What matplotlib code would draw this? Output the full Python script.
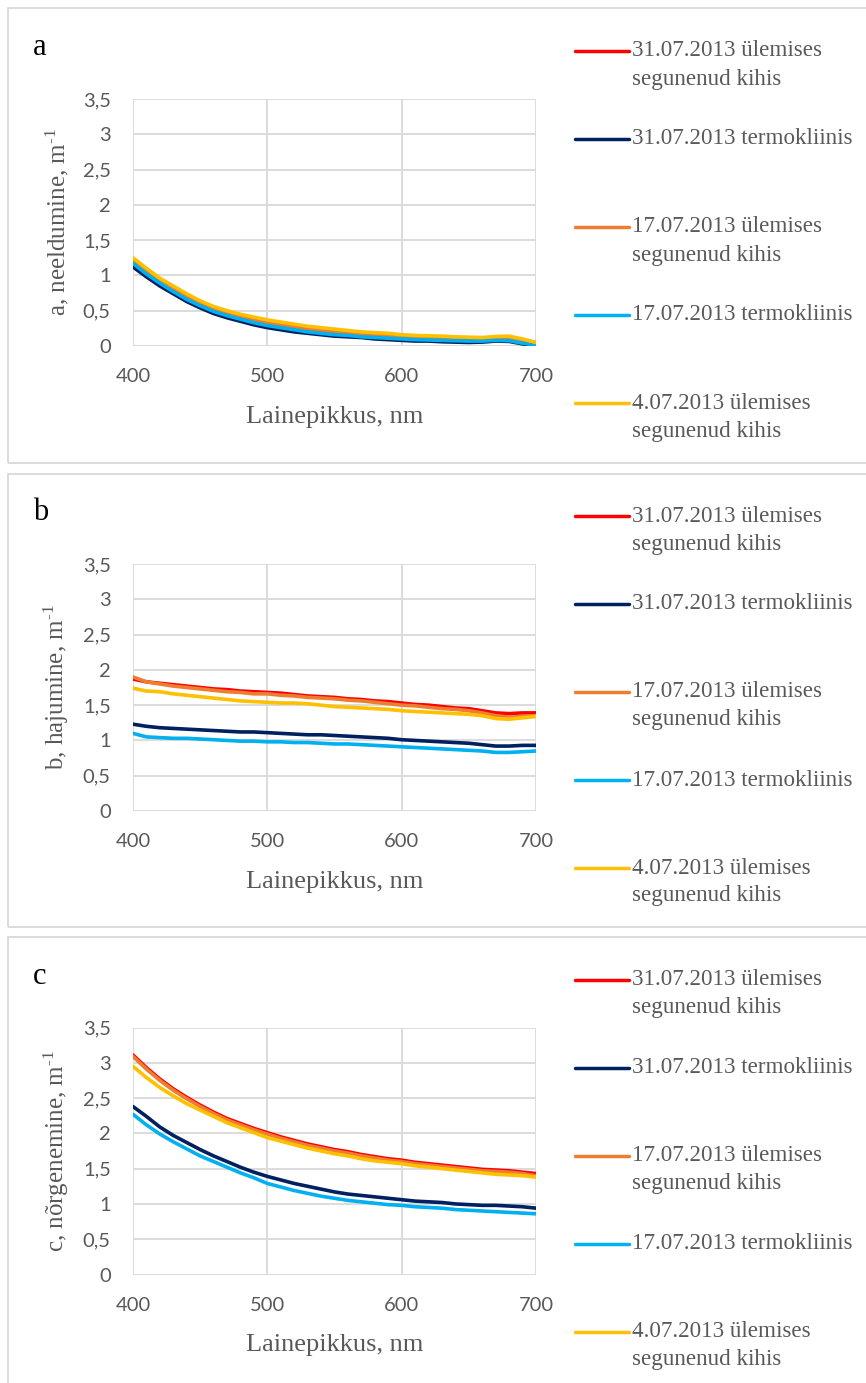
import matplotlib
matplotlib.use("Agg")
import matplotlib.pyplot as plt
from matplotlib.lines import Line2D
from matplotlib.patches import Rectangle

# ---------------- data ----------------
wavelength = [400, 410, 420, 430, 440, 450, 460, 470, 480, 490, 500, 510, 520, 530, 540,
              550, 560, 570, 580, 590, 600, 610, 620, 630, 640, 650, 660, 670, 680, 690, 700]

series_labels = ["31.07.2013 ülemises\nsegunenud kihis",
                 "31.07.2013 termokliinis",
                 "17.07.2013 ülemises\nsegunenud kihis",
                 "17.07.2013 termokliinis",
                 "4.07.2013 ülemises\nsegunenud kihis"]
series_colors = ["#FF0000", "#002060", "#ED7D31", "#00B0F0", "#FFC000"]

# panel a: absorption
a_red = [1.24, 1.09, 0.95, 0.83, 0.72, 0.62, 0.54, 0.48, 0.43, 0.38, 0.34, 0.31, 0.28, 0.25, 0.23,
         0.21, 0.19, 0.17, 0.16, 0.15, 0.14, 0.13, 0.12, 0.11, 0.105, 0.10, 0.10, 0.11, 0.11, 0.07, 0.03]
a_navy = [1.12, 0.98, 0.85, 0.74, 0.63, 0.54, 0.46, 0.40, 0.35, 0.30, 0.26, 0.23, 0.20, 0.18, 0.16,
          0.14, 0.13, 0.12, 0.10, 0.09, 0.08, 0.07, 0.07, 0.06, 0.055, 0.05, 0.055, 0.07, 0.065, 0.03, 0.0]
a_orange = [1.22, 1.07, 0.94, 0.82, 0.71, 0.61, 0.53, 0.47, 0.42, 0.37, 0.33, 0.30, 0.27, 0.24, 0.22,
            0.20, 0.18, 0.16, 0.15, 0.14, 0.13, 0.12, 0.11, 0.10, 0.095, 0.09, 0.09, 0.10, 0.10, 0.06, 0.02]
a_blue = [1.17, 1.02, 0.89, 0.77, 0.66, 0.57, 0.49, 0.43, 0.38, 0.33, 0.29, 0.26, 0.23, 0.20, 0.18,
          0.16, 0.15, 0.13, 0.12, 0.11, 0.10, 0.09, 0.085, 0.08, 0.075, 0.07, 0.07, 0.08, 0.075, 0.04, 0.01]
a_yellow = [1.25, 1.10, 0.96, 0.85, 0.74, 0.64, 0.56, 0.50, 0.45, 0.41, 0.37, 0.34, 0.31, 0.28, 0.26,
            0.24, 0.22, 0.20, 0.19, 0.18, 0.16, 0.15, 0.145, 0.14, 0.13, 0.125, 0.12, 0.135, 0.14, 0.10, 0.05]

# panel b: scattering
b_red = [1.87, 1.83, 1.81, 1.79, 1.77, 1.75, 1.73, 1.72, 1.70, 1.69, 1.68, 1.67, 1.65, 1.63, 1.62,
         1.61, 1.59, 1.58, 1.56, 1.55, 1.53, 1.51, 1.50, 1.48, 1.46, 1.45, 1.42, 1.39, 1.38, 1.39, 1.39]
b_navy = [1.23, 1.20, 1.18, 1.17, 1.16, 1.15, 1.14, 1.13, 1.12, 1.12, 1.11, 1.10, 1.09, 1.08, 1.08,
          1.07, 1.06, 1.05, 1.04, 1.03, 1.01, 1.00, 0.99, 0.98, 0.97, 0.96, 0.94, 0.92, 0.92, 0.93, 0.93]
b_orange = [1.90, 1.83, 1.80, 1.77, 1.75, 1.73, 1.71, 1.69, 1.68, 1.66, 1.66, 1.64, 1.63, 1.61, 1.60,
            1.59, 1.57, 1.56, 1.54, 1.52, 1.50, 1.49, 1.47, 1.45, 1.44, 1.42, 1.39, 1.35, 1.33, 1.34, 1.35]
b_blue = [1.10, 1.05, 1.04, 1.03, 1.03, 1.02, 1.01, 1.00, 0.99, 0.99, 0.98, 0.98, 0.97, 0.97, 0.96,
          0.95, 0.95, 0.94, 0.93, 0.92, 0.91, 0.90, 0.89, 0.88, 0.87, 0.86, 0.85, 0.83, 0.83, 0.84, 0.85]
b_yellow = [1.74, 1.70, 1.69, 1.66, 1.64, 1.62, 1.60, 1.58, 1.56, 1.55, 1.54, 1.53, 1.53, 1.52, 1.50,
            1.48, 1.47, 1.46, 1.45, 1.44, 1.42, 1.41, 1.40, 1.39, 1.38, 1.37, 1.35, 1.31, 1.30, 1.32, 1.34]

# panel c: attenuation
c_red = [3.11, 2.93, 2.77, 2.63, 2.51, 2.40, 2.30, 2.21, 2.14, 2.07, 2.01, 1.95, 1.90, 1.85, 1.81,
         1.77, 1.74, 1.70, 1.67, 1.64, 1.62, 1.59, 1.57, 1.55, 1.53, 1.51, 1.49, 1.48, 1.47, 1.45, 1.43]
c_navy = [2.38, 2.24, 2.09, 1.97, 1.87, 1.77, 1.68, 1.60, 1.52, 1.45, 1.39, 1.34, 1.29, 1.25, 1.21,
          1.17, 1.14, 1.12, 1.10, 1.08, 1.06, 1.04, 1.03, 1.02, 1.00, 0.99, 0.98, 0.98, 0.97, 0.96, 0.94]
c_orange = [3.09, 2.91, 2.75, 2.61, 2.49, 2.38, 2.28, 2.19, 2.12, 2.05, 1.99, 1.93, 1.88, 1.83, 1.79,
            1.75, 1.72, 1.68, 1.65, 1.62, 1.60, 1.57, 1.55, 1.53, 1.51, 1.49, 1.47, 1.46, 1.45, 1.43, 1.40]
c_blue = [2.27, 2.12, 1.99, 1.88, 1.78, 1.68, 1.60, 1.52, 1.44, 1.37, 1.29, 1.24, 1.19, 1.15, 1.11,
          1.08, 1.05, 1.03, 1.01, 0.99, 0.98, 0.96, 0.95, 0.94, 0.92, 0.91, 0.90, 0.89, 0.88, 0.87, 0.86]
c_yellow = [2.95, 2.79, 2.65, 2.53, 2.42, 2.33, 2.24, 2.15, 2.08, 2.01, 1.94, 1.89, 1.84, 1.79, 1.75,
            1.71, 1.68, 1.64, 1.61, 1.59, 1.57, 1.54, 1.52, 1.50, 1.48, 1.46, 1.44, 1.42, 1.41, 1.40, 1.38]

panel_letters = ["a", "b", "c"]
y_labels = [r"a, neeldumine, m$^{\text{-1}}$", r"b, hajumine, m$^{\text{-1}}$",
            r"c, nõrgenemine, m$^{\text{-1}}$"]
x_label = "Lainepikkus, nm"
x_ticks = [400, 500, 600, 700]
y_ticks = [0, 0.5, 1, 1.5, 2, 2.5, 3, 3.5]
y_tick_labels = ["0", "0,5", "1", "1,5", "2", "2,5", "3", "3,5"]

panels = [[a_red, a_navy, a_orange, a_blue, a_yellow],
          [b_red, b_navy, b_orange, b_blue, b_yellow],
          [c_red, c_navy, c_orange, c_blue, c_yellow]]

# ---------------- figure ----------------
plt.rcParams["mathtext.fontset"] = "custom"
plt.rcParams["mathtext.rm"] = "Liberation Serif"
plt.rcParams["mathtext.it"] = "Liberation Serif:italic"
plt.rcParams["mathtext.bf"] = "Liberation Serif:bold"

W, H = 866, 1383
fig = plt.figure(figsize=(W / 100, H / 100), dpi=100)
fig.patch.set_facecolor("white")

SERIF = ["Liberation Serif", "DejaVu Serif"]
SANS = ["Lato", "DejaVu Sans"]
GRAY = "#595959"
GRID = "#D9D9D9"

ax_left, ax_right = 133, 536
ax_tops = [99, 564, 1027.5]
ax_h = 247
box_tops = [8, 473.5, 937.5]
box_bottoms = [462.5, 926.5, 1395]

def fx(px):
    return px / W

def fy(py):
    return 1 - py / H

for i, data in enumerate(panels):
    # panel box
    fig.add_artist(Rectangle((fx(8), fy(box_bottoms[i])), fx(870) - fx(8),
                             fy(box_tops[i]) - fy(box_bottoms[i]),
                             transform=fig.transFigure, fill=False,
                             edgecolor=GRID, linewidth=1.3))
    top = ax_tops[i]
    ax = fig.add_axes([fx(ax_left), fy(top + ax_h), fx(ax_right - ax_left), ax_h / H])
    for s, (vals, col) in enumerate(zip(data, series_colors)):
        ax.plot(wavelength, vals, color=col, linewidth=2.6, solid_capstyle="round", zorder=3 + s)
    ax.set_xlim(400, 700)
    ax.set_ylim(0, 3.5)
    ax.set_xticks(x_ticks)
    ax.set_xticklabels([str(t) for t in x_ticks])
    ax.set_yticks(y_ticks)
    ax.set_yticklabels(y_tick_labels)
    ax.tick_params(length=0, pad=16, labelsize=14.5, labelcolor=GRAY)
    for lab in ax.get_xticklabels() + ax.get_yticklabels():
        lab.set_family(SANS)
    for sp in ax.spines.values():
        sp.set_visible(False)
    ax.grid(True, color=GRID, linewidth=1.3)
    ax.set_axisbelow(True)
    ax.text(-0.189, 0.5, y_labels[i], transform=ax.transAxes, rotation=90,
            ha="center", va="center", fontsize=18, color=GRAY, family=SERIF)
    ax.text(0.5, -0.287, x_label, transform=ax.transAxes, ha="center", va="center",
            fontsize=19, color=GRAY, family=SERIF)

    off = top - 99
    fig.text(fx(33), fy(55 + off), panel_letters[i], ha="left", va="baseline",
             fontsize=22, color="black", family=SERIF)

    # legend
    for s, (lab, col) in enumerate(zip(series_labels, series_colors)):
        ly = 51 + off + s * 88
        fig.add_artist(Line2D([fx(575), fx(629)], [fy(ly), fy(ly)], color=col,
                              linewidth=2.5, solid_capstyle="round",
                              transform=fig.transFigure))
        lines = lab.split("\n")
        for k, t in enumerate(lines):
            fig.text(fx(632), fy(ly + k * 28), t, ha="left", va="center",
                     fontsize=16.6, color=GRAY, family=SERIF)

fig.savefig("out.png", dpi=100, facecolor="white")
